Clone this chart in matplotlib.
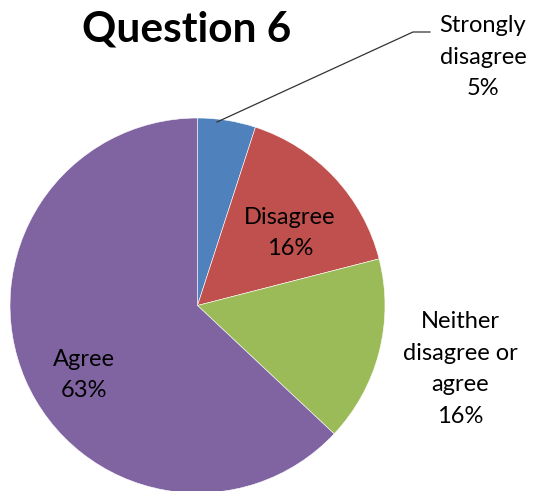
import matplotlib
matplotlib.use("Agg")
import matplotlib.pyplot as plt
import numpy as np

categories = ["Strongly disagree", "Disagree", "Neither disagree or agree", "Agree"]
values = [5, 16, 16, 63]
label_texts = ["Strongly\ndisagree\n5%", "Disagree\n16%", "Neither\ndisagree or\nagree\n16%", "Agree\n63%"]
colors = ["#4F81BD", "#C0504D", "#9BBB59", "#8064A2"]

W, H = 547, 491
fig = plt.figure(figsize=(W / 100, H / 100), dpi=100)
ax = fig.add_axes([0, 0, 1, 1])

cx, cy, r = 197.5, H - 305.5, 187.5
wedges, _ = ax.pie(values, colors=colors, startangle=90, counterclock=False,
                   center=(cx, cy), radius=r, frame=True,
                   wedgeprops=dict(edgecolor="white", linewidth=0.4))
ax.set_xlim(0, W)
ax.set_ylim(0, H)
ax.set_aspect("equal")
ax.axis("off")

fam = ["Lato", "DejaVu Sans"]
fs = 17
ls = 1.62
# label positions (pixel coordinates from top-left)
pos = [(483, 57), (290, 233), (460, 369), (84, 375)]
for txt, (px, py) in zip(label_texts, pos):
    ax.text(px, H - py, txt, ha="center", va="center", fontsize=fs,
            family=fam, linespacing=ls, color="#000000")

# leader line for Strongly disagree
ax.plot([217, 413, 430], [H - 122, H - 32, H - 32], color="#333333", lw=0.9)

ax.text(187, H - 29, "Question 6", ha="center", va="center", fontsize=30.5,
        fontweight="bold", family=fam)

fig.savefig("out.png", dpi=100)
